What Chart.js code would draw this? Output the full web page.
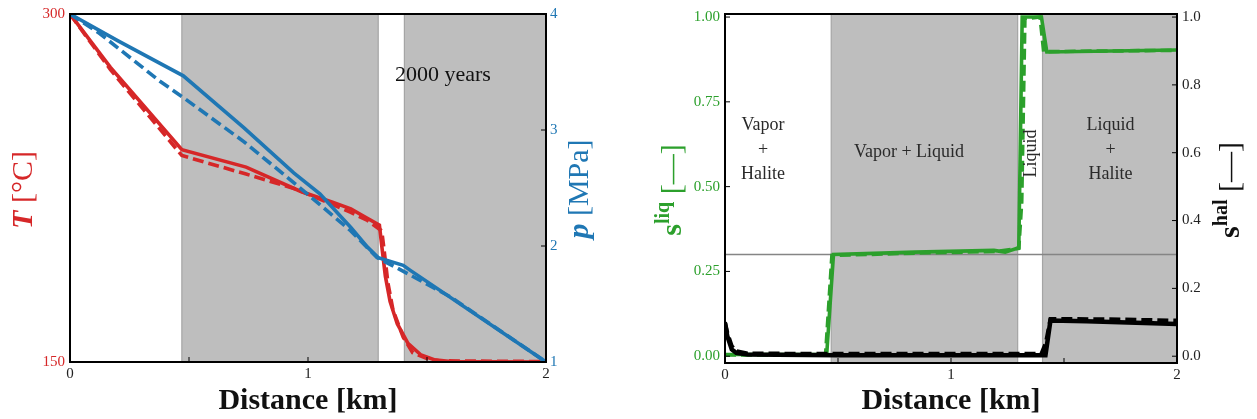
<!DOCTYPE html>
<html>
<head>
<meta charset="utf-8">
<script src="https://cdn.jsdelivr.net/npm/chart.js@4.4.0/dist/chart.umd.min.js"></script>
<style>
  html, body { margin: 0; padding: 0; background: #fff; }
  #wrap { position: relative; width: 1257px; height: 419px; overflow: hidden; }
  canvas { position: absolute; top: 0; }
</style>
</head>
<body>
<div id="wrap">
  <canvas id="left" width="620" height="419" style="left:0"></canvas>
  <canvas id="right" width="637" height="419" style="left:620px"></canvas>
</div>
<script>
// ---- data ----
// left panel: temperature (left axis) and pressure (right axis) along the distance
const distTempSolid = [0, 0.17, 0.47, 0.74, 0.97, 1.1, 1.18, 1.24, 1.30, 1.31, 1.325, 1.345, 1.375, 1.42, 1.475, 1.53, 1.6, 2.0];
const tempSolid     = [300, 277, 241.5, 234, 223.5, 219, 216, 212.5, 209, 200, 187, 176, 166.5, 158, 153, 151, 150.2, 150];
const distTempDash  = [0, 0.17, 0.47, 0.74, 0.95, 1.18, 1.25, 1.31, 1.32, 1.336, 1.357, 1.40, 1.44, 1.5, 1.55, 2.0];
const tempDash      = [300, 276, 239, 231, 224.5, 214.5, 211, 206.5, 198, 184, 172.5, 160.7, 154, 151.5, 150.5, 150.2];

const distPresSolid = [0, 0.2, 0.476, 0.73, 0.94, 1.05, 1.18, 1.25, 1.295, 1.40, 1.43, 2.0];
const presSolid     = [4, 3.77, 3.467, 3.02, 2.63, 2.45, 2.16, 1.99, 1.90, 1.833, 1.79, 1.0];
const distPresDash  = [0, 0.126, 0.378, 0.476, 0.73, 0.95, 1.18, 1.29, 1.375, 1.6, 2.0];
const presDash      = [4, 3.83, 3.42, 3.28, 2.90, 2.53, 2.13, 1.90, 1.81, 1.56, 1.0];

// right panel: liquid saturation (left axis) and halite saturation (right axis)
const distLiqSolid = [0, 0.03, 0.45, 0.48, 0.84, 1.19, 1.24, 1.30, 1.315, 1.40, 1.424, 2.0];
const sLiqSolid    = [0.005, 0.005, 0.005, 0.30, 0.307, 0.312, 0.307, 0.32, 1.0, 1.0, 0.897, 0.903];
const distLiqDash  = [0, 0.445, 0.473, 0.84, 1.2, 1.30, 1.313, 1.327, 1.394, 1.41, 2.0];
const sLiqDash     = [0.004, 0.004, 0.297, 0.304, 0.309, 0.318, 0.455, 0.995, 1.0, 0.898, 0.902];

const distHalSolid = [0, 0.01, 0.03, 0.05, 0.1, 0.5, 1.0, 1.418, 1.44, 1.6, 2.0];
const sHalSolid    = [0.097, 0.06, 0.02, 0.01, 0.005, 0.003, 0.003, 0.003, 0.105, 0.103, 0.095];
const distHalDash  = [0, 0.01, 0.03, 0.05, 0.1, 0.5, 1.0, 1.40, 1.42, 1.44, 1.7, 2.0];
const sHalDash     = [0.1, 0.07, 0.03, 0.015, 0.008, 0.007, 0.007, 0.007, 0.04, 0.11, 0.109, 0.105];

// phase regions (km) that are shaded grey
const shadedBands = [[0.47, 1.295], [1.405, 2.0]];
const sLiqResidual = 0.3;

const tempTicks = [150, 300];
const presTicks = [1, 2, 3, 4];
const sLiqTicks = [0, 0.25, 0.5, 0.75, 1.0];
const sHalTicks = [0, 0.2, 0.4, 0.6, 0.8, 1.0];
const distTicks = [0, 0.5, 1, 1.5, 2];

// ---- styling ----
const SERIF = '"Liberation Serif", "DejaVu Serif", serif';
const RED = '#d62728', BLUE = '#1f77b4', GREEN = '#2ca02c';
Chart.defaults.font.family = SERIF;
Chart.defaults.animation = false;

const pts = (xs, ys) => xs.map((x, i) => ({ x, y: ys[i] }));

function line(data, color, axis, dashed, width) {
  return {
    data, yAxisID: axis, borderColor: color, borderWidth: width || 3.6,
    borderDash: dashed ? [11, 5] : [], pointRadius: 0, tension: 0, fill: false
  };
}

function setTicks(values) {
  return scale => { scale.ticks = values.map(v => ({ value: v })); };
}

// text made of several differently styled pieces, centred on (x, y) baseline
function drawRich(ctx, parts, x, y, rot, color) {
  ctx.save();
  ctx.translate(x, y);
  ctx.rotate(rot);
  ctx.fillStyle = color;
  ctx.textBaseline = 'alphabetic';
  ctx.textAlign = 'left';
  let total = 0;
  parts.forEach(p => { ctx.font = p.font; p.w = ctx.measureText(p.text).width; total += p.w; });
  let cx = -total / 2;
  parts.forEach(p => { ctx.font = p.font; ctx.fillText(p.text, cx, -(p.rise || 0)); cx += p.w; });
  ctx.restore();
}

function drawLabel(ctx, text, x, y, font, color, rot) {
  ctx.save();
  ctx.translate(x, y);
  if (rot) ctx.rotate(rot);
  ctx.font = font;
  ctx.fillStyle = color;
  ctx.textAlign = 'center';
  ctx.textBaseline = 'middle';
  ctx.fillText(text, 0, 0);
  ctx.restore();
}

function decor(opts) {
  return {
    id: 'decor',
    beforeDatasetsDraw(chart) {
      const { ctx, chartArea: a, scales } = chart;
      ctx.save();
      ctx.beginPath();
      ctx.rect(a.left, a.top, a.width, a.height);
      ctx.clip();
      shadedBands.forEach(([x0, x1]) => {
        const p0 = scales.x.getPixelForValue(x0), p1 = scales.x.getPixelForValue(x1);
        ctx.fillStyle = '#bebebe';
        ctx.fillRect(p0, a.top, p1 - p0, a.height);
        ctx.strokeStyle = '#a5a5a5';
        ctx.lineWidth = 1.2;
        ctx.beginPath();
        ctx.moveTo(p0, a.top); ctx.lineTo(p0, a.bottom);
        ctx.moveTo(p1, a.top); ctx.lineTo(p1, a.bottom);
        ctx.stroke();
      });
      if (opts.hline) {
        const y = scales[opts.hline.axis].getPixelForValue(opts.hline.value);
        ctx.strokeStyle = '#858585';
        ctx.lineWidth = 1.5;
        ctx.beginPath(); ctx.moveTo(a.left, y); ctx.lineTo(a.right, y); ctx.stroke();
      }
      ctx.restore();
    },
    afterDraw(chart) {
      const { ctx, chartArea: a, scales } = chart;
      // annotations in data coordinates
      (opts.notes || []).forEach(n => {
        const x = scales.x.getPixelForValue(n.x), y = scales[n.axis].getPixelForValue(n.y);
        drawLabel(ctx, n.text, x, y, n.font, n.color, n.rot);
      });
      // inward tick marks
      ctx.save();
      ctx.strokeStyle = '#000';
      ctx.lineWidth = 1;
      ctx.beginPath();
      distTicks.forEach(v => {
        const x = scales.x.getPixelForValue(v);
        ctx.moveTo(x, a.bottom); ctx.lineTo(x, a.bottom - 5);
      });
      opts.leftTicks.forEach(v => {
        const y = scales[opts.leftAxis].getPixelForValue(v);
        ctx.moveTo(a.left, y); ctx.lineTo(a.left + 5, y);
      });
      opts.rightTicks.forEach(v => {
        const y = scales[opts.rightAxis].getPixelForValue(v);
        ctx.moveTo(a.right, y); ctx.lineTo(a.right - 5, y);
      });
      ctx.stroke();
      // frame
      ctx.lineWidth = 2;
      ctx.strokeRect(a.left, a.top, a.width, a.height);
      ctx.restore();
      // axis titles
      opts.titles.forEach(t => drawRich(ctx, t.parts, t.x, t.y, t.rot || 0, t.color));
    }
  };
}

const tickFont = { family: SERIF, size: 15 };
const noGrid = { display: false, drawTicks: false, tickLength: 0 };
const B30 = 'bold 30px ' + SERIF, BI30 = 'italic bold 30px ' + SERIF, R30 = '30px ' + SERIF;

function xScale(height) {
  return {
    type: 'linear', min: 0, max: 2,
    grid: noGrid, border: { display: false },
    afterBuildTicks: setTicks(distTicks),
    afterFit: s => { s.height = height; },
    ticks: { font: tickFont, color: '#222', padding: 3, autoSkip: false, maxRotation: 0,
             callback: v => Number.isInteger(v) ? String(v) : '' }
  };
}

// ---- left panel ----
new Chart(document.getElementById('left'), {
  type: 'line',
  data: {
    datasets: [
      line(pts(distPresDash, presDash), BLUE, 'yP', true),
      line(pts(distPresSolid, presSolid), BLUE, 'yP', false),
      line(pts(distTempDash, tempDash), RED, 'yT', true),
      line(pts(distTempSolid, tempSolid), RED, 'yT', false)
    ]
  },
  options: {
    responsive: false,
    layout: { padding: { top: 13, left: 0, right: 0, bottom: 0 } },
    plugins: { legend: { display: false }, tooltip: { enabled: false } },
    scales: {
      x: xScale(57),
      yT: {
        position: 'left', min: 150, max: 300,
        grid: noGrid, border: { display: false },
        afterBuildTicks: setTicks(tempTicks),
        afterFit: s => { s.width = 70; },
        ticks: { font: tickFont, color: RED, padding: 5 }
      },
      yP: {
        position: 'right', min: 1, max: 4,
        grid: noGrid, border: { display: false },
        afterBuildTicks: setTicks(presTicks),
        afterFit: s => { s.width = 74; },
        ticks: { font: tickFont, color: BLUE, padding: 4 }
      }
    }
  },
  plugins: [decor({
    leftAxis: 'yT', leftTicks: tempTicks, rightAxis: 'yP', rightTicks: presTicks,
    notes: [{ text: '2000 years', x: 1.567, y: 273.5, axis: 'yT', font: '22px ' + SERIF, color: '#111' }],
    titles: [
      { parts: [{ text: 'Distance [km]', font: B30 }], x: 308, y: 409, color: '#111' },
      { parts: [{ text: 'T', font: BI30 }, { text: ' [\u00B0C]', font: R30 }], x: 32, y: 190, rot: -Math.PI / 2, color: RED },
      { parts: [{ text: 'p', font: BI30 }, { text: ' [MPa]', font: R30 }], x: 588, y: 189, rot: -Math.PI / 2, color: BLUE }
    ]
  })]
});

// ---- right panel ----
const NOTE = '18px ' + SERIF, NOTE_C = '#2a2a2a';
new Chart(document.getElementById('right'), {
  type: 'line',
  data: {
    datasets: [
      line(pts(distHalDash, sHalDash), '#000', 'yH', true, 4),
      line(pts(distHalSolid, sHalSolid), '#000', 'yH', false, 4.5),
      line(pts(distLiqDash, sLiqDash), GREEN, 'yL', true),
      line(pts(distLiqSolid, sLiqSolid), GREEN, 'yL', false)
    ]
  },
  options: {
    responsive: false,
    layout: { padding: { top: 10, left: 0, right: 0, bottom: 0 } },
    plugins: { legend: { display: false }, tooltip: { enabled: false } },
    scales: {
      x: xScale(56),
      yL: {
        position: 'left', min: -0.02, max: 1.009,
        grid: noGrid, border: { display: false },
        afterBuildTicks: setTicks(sLiqTicks),
        afterFit: s => { s.width = 105; },
        ticks: { font: tickFont, color: GREEN, padding: 5, callback: v => v.toFixed(2) }
      },
      yH: {
        position: 'right', min: -0.02, max: 1.009,
        grid: noGrid, border: { display: false },
        afterBuildTicks: setTicks(sHalTicks),
        afterFit: s => { s.width = 80; },
        ticks: { font: tickFont, color: '#222', padding: 5, callback: v => v.toFixed(1) }
      }
    }
  },
  plugins: [decor({
    leftAxis: 'yL', leftTicks: sLiqTicks, rightAxis: 'yH', rightTicks: sHalTicks,
    hline: { axis: 'yL', value: sLiqResidual },
    notes: [
      { text: 'Vapor', x: 0.168, y: 0.682, axis: 'yL', font: NOTE, color: NOTE_C },
      { text: '+', x: 0.168, y: 0.606, axis: 'yL', font: NOTE, color: NOTE_C },
      { text: 'Halite', x: 0.168, y: 0.536, axis: 'yL', font: NOTE, color: NOTE_C },
      { text: 'Vapor + Liquid', x: 0.814, y: 0.60, axis: 'yL', font: NOTE, color: NOTE_C },
      { text: 'Liquid', x: 1.354, y: 0.598, axis: 'yL', font: NOTE, color: NOTE_C, rot: -Math.PI / 2 },
      { text: 'Liquid', x: 1.706, y: 0.682, axis: 'yL', font: NOTE, color: NOTE_C },
      { text: '+', x: 1.706, y: 0.606, axis: 'yL', font: NOTE, color: NOTE_C },
      { text: 'Halite', x: 1.706, y: 0.536, axis: 'yL', font: NOTE, color: NOTE_C }
    ],
    titles: [
      { parts: [{ text: 'Distance [km]', font: B30 }], x: 331, y: 409, color: '#111' },
      { parts: [{ text: 's', font: B30 }, { text: 'liq', font: 'bold 20px ' + SERIF, rise: 12 }, { text: ' [\u2014]', font: R30 }],
        x: 61, y: 190, rot: -Math.PI / 2, color: GREEN },
      { parts: [{ text: 's', font: B30 }, { text: 'hal', font: 'bold 20px ' + SERIF, rise: 12 }, { text: ' [\u2014]', font: R30 }],
        x: 619, y: 190, rot: -Math.PI / 2, color: '#111' }
    ]
  })]
});
</script>
</body>
</html>
